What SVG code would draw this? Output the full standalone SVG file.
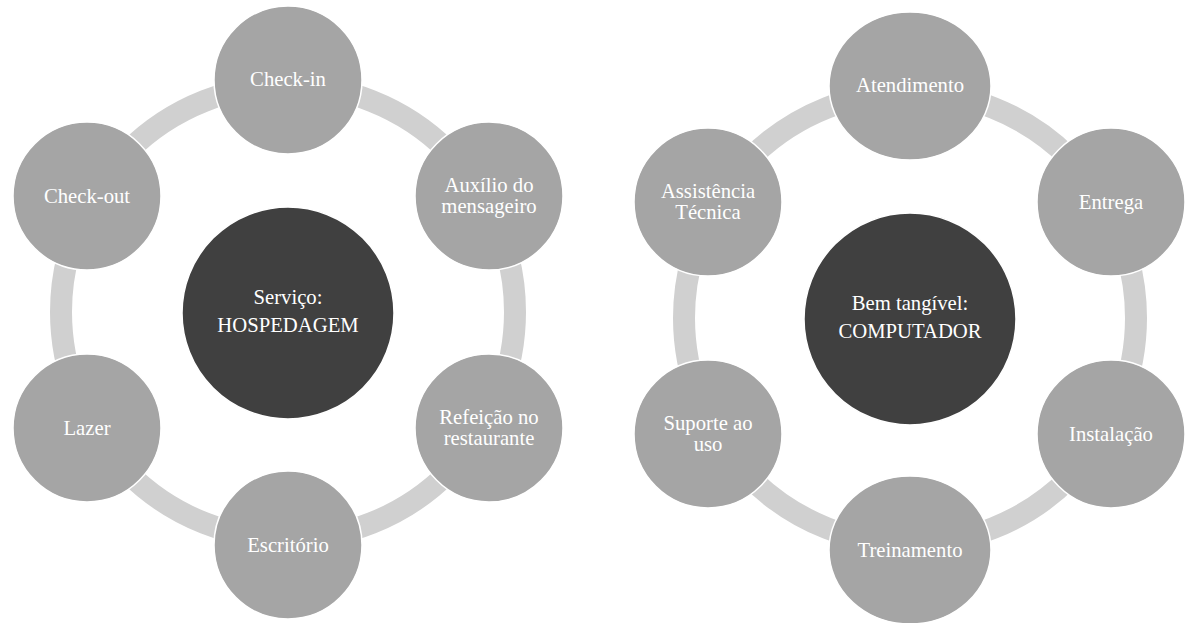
<svg xmlns="http://www.w3.org/2000/svg" width="1186" height="623" viewBox="0 0 1186 623" font-family="'Liberation Serif', 'Times New Roman', 'DejaVu Serif', serif">
<style>
.ring{fill:none;stroke:#d0d0d0;stroke-width:22}
.node{fill:#a5a5a5;stroke:#ffffff;stroke-width:1.5}
.core{fill:#404040;stroke:#ffffff;stroke-width:1.5}
.t{font-family:'Liberation Serif','Times New Roman','DejaVu Serif',serif;font-size:20.7px;fill:#ffffff;text-anchor:middle}
</style>
<rect width="1186" height="623" fill="#ffffff"/>
<g id="connectors">
<circle class="ring" cx="288" cy="312" r="227"/>
<circle class="ring" cx="910" cy="318" r="226"/>
</g>
<g id="hospedagem">
<circle class="core" cx="288" cy="313" r="106"/>
<text class="t" x="288" y="304">Serviço:</text>
<text class="t" x="288" y="332">HOSPEDAGEM</text>
</g>
<g id="checkin"><circle class="node" cx="288" cy="80" r="74"/><text class="t" x="288" y="86">Check-in</text></g>
<g id="auxilio"><circle class="node" cx="489" cy="196" r="74"/><text class="t" x="489" y="192">Auxílio do</text><text class="t" x="489" y="213">mensageiro</text></g>
<g id="refeicao"><circle class="node" cx="489" cy="428" r="74"/><text class="t" x="489" y="424">Refeição no</text><text class="t" x="489" y="445">restaurante</text></g>
<g id="escritorio"><circle class="node" cx="288" cy="545" r="74"/><text class="t" x="288" y="552">Escritório</text></g>
<g id="lazer"><circle class="node" cx="87" cy="428" r="74"/><text class="t" x="87" y="435">Lazer</text></g>
<g id="checkout"><circle class="node" cx="87" cy="196" r="74"/><text class="t" x="87" y="203">Check-out</text></g>
<g id="computador">
<circle class="core" cx="910" cy="319" r="106"/>
<text class="t" x="910" y="310">Bem tangível:</text>
<text class="t" x="910" y="338">COMPUTADOR</text>
</g>
<g id="atendimento"><ellipse class="node" cx="910" cy="86" rx="81" ry="74"/><text class="t" x="910" y="92">Atendimento</text></g>
<g id="entrega"><circle class="node" cx="1111" cy="202" r="74"/><text class="t" x="1111" y="209">Entrega</text></g>
<g id="instalacao"><circle class="node" cx="1111" cy="434" r="74"/><text class="t" x="1111" y="441">Instalação</text></g>
<g id="treinamento"><ellipse class="node" cx="910" cy="550" rx="81" ry="74"/><text class="t" x="910" y="557">Treinamento</text></g>
<g id="suporte"><circle class="node" cx="708" cy="434" r="74"/><text class="t" x="708" y="430">Suporte ao</text><text class="t" x="708" y="451">uso</text></g>
<g id="assistencia"><circle class="node" cx="708" cy="202" r="74"/><text class="t" x="708" y="198">Assistência</text><text class="t" x="708" y="219">Técnica</text></g>
</svg>
